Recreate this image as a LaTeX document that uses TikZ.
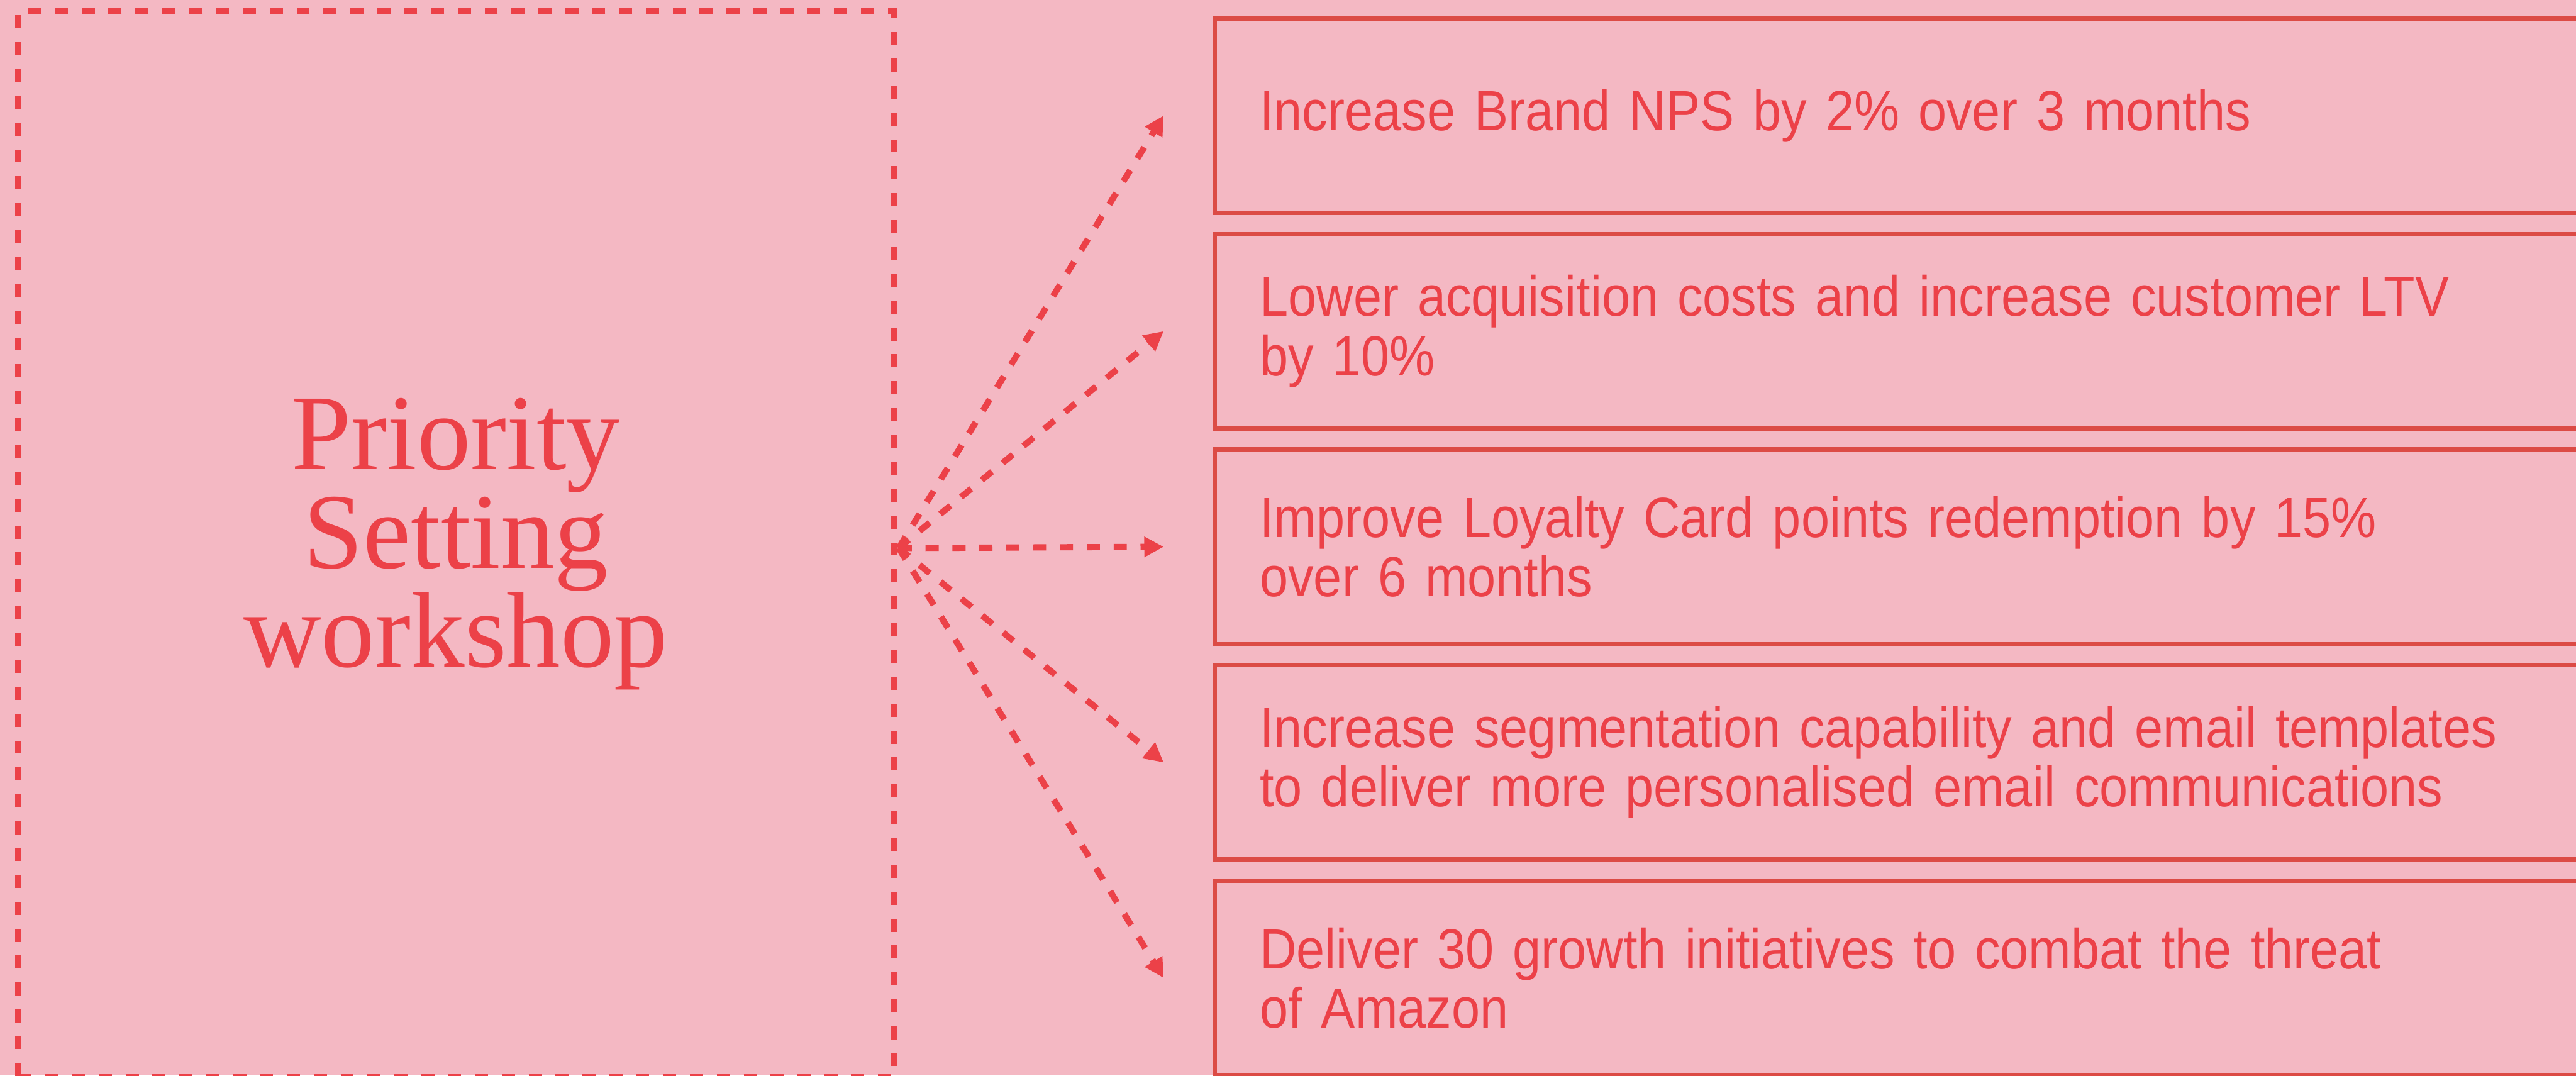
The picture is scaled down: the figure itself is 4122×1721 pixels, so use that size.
\documentclass[tikz,border=0pt]{standalone}
\usepackage{fontspec}
\setmainfont{Liberation Serif}
\newfontfamily\goalfont[FakeStretch=0.9, WordSpace=0.8]{Liberation Sans}
\usepackage{xcolor}
\usetikzlibrary{arrows.meta, positioning}

\definecolor{bgpink}{HTML}{F4B8C3}
\definecolor{accent}{HTML}{EC4148}
\definecolor{boxline}{HTML}{DC4B45}

\begin{document}
\begin{tikzpicture}[
  x=0.1mm, y=-0.1mm,
  frame/.style={draw=accent, line width=1mm, dash pattern=on 2.1mm off 2.2mm, minimum width=140.1mm, minimum height=170.65mm, inner sep=0pt},
  title/.style={font=\fontsize{49}{45}\selectfont, text=accent, align=center},
  goal/.style={draw=boxline, line width=0.7mm, minimum width=230mm, minimum height=31.1mm, inner xsep=7.25mm, inner ysep=0pt, text width=215.5mm, align=left, text=accent, font=\goalfont\fontsize{25.8}{27}\selectfont},
  arrow/.style={draw=accent, line width=1mm, dash pattern=on 2.1mm off 2.2mm, -{Triangle[length=3.1mm, width=3.1mm]}}
]

% Canvas
\useasboundingbox (0,0) rectangle (4122,1721);
\fill[bgpink] (0,0) rectangle (4122,1721);
\clip (0,0) rectangle (4122,1721);

% Workshop (left)
\node[frame] (workshop) at (729.5,870.75) {};
\node[title] (prio) at (workshop) {Priority\\Setting\\workshop};

% Goals (right)
\node[goal, anchor=north west] (g1) at (1940,26) {Increase Brand NPS by 2\% over 3 months};
\node[goal, below=2.7mm of g1] (g2) {Lower acquisition costs and increase customer LTV\\by 10\%};
\node[goal, below=2.7mm of g2] (g3) {Improve Loyalty Card points redemption by 15\%\\over 6 months};
\node[goal, below=2.7mm of g3] (g4) {Increase segmentation capability and email templates\\to deliver more personalised email communications};
\node[goal, below=2.7mm of g4] (g5) {Deliver 30 growth initiatives to combat the threat\\of Amazon};

% Arrows
\coordinate (hub) at (1438,877);
\draw[arrow] (hub) -- ([xshift=-7.8mm]g1.west);
\draw[arrow] (hub) -- ([xshift=-7.8mm]g2.west);
\draw[arrow] (hub) -- ([xshift=-7.8mm]g3.west);
\draw[arrow] (hub) -- ([xshift=-7.8mm]g4.west);
\draw[arrow] (hub) -- ([xshift=-7.8mm]g5.west);

\end{tikzpicture}
\end{document}
